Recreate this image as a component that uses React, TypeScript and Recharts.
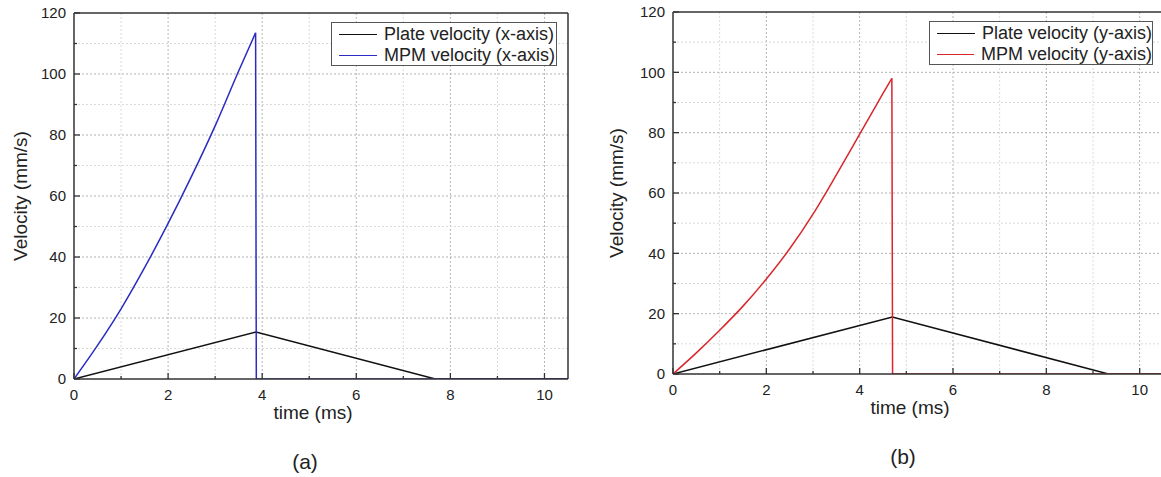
import React from "react";
import { LineChart, Line, XAxis, YAxis, ReferenceLine } from "recharts";

// axis ticks
const timeTicks = [0, 1, 2, 3, 4, 5, 6, 7, 8, 9, 10];
const velTicks = [0, 10, 20, 30, 40, 50, 60, 70, 80, 90, 100, 110, 120];
const timeMax = 10.5;
const velMax = 120;

// panel (a): x-axis velocities
const plateXTime = [0, 3.87, 7.68, 10.5];
const plateXVel = [0, 15.4, 0, 0];
const mpmXTime = [0, 0.5, 1, 1.5, 2, 2.5, 3, 3.5, 3.86, 3.875, 10.5];
const mpmXVel = [0, 11, 23, 36.5, 51, 66.5, 83, 101, 113.5, 0, 0];

// panel (b): y-axis velocities
const plateYTime = [0, 4.7, 9.33, 10.5];
const plateYVel = [0, 18.9, 0, 0];
const mpmYTime = [0, 0.5, 1, 1.5, 2, 2.5, 3, 3.5, 4, 4.5, 4.69, 4.705, 10.5];
const mpmYVel = [0, 7, 14.5, 22.5, 31.5, 41.5, 53, 66, 79.5, 93, 98, 0, 0];

const seriesNamesX = ["Plate velocity (x-axis)", "MPM velocity (x-axis)"];
const seriesNamesY = ["Plate velocity (y-axis)", "MPM velocity (y-axis)"];

const FONT = 'Arial, "Liberation Sans", sans-serif';
const AXIS = "#333";

type Pt = { t: number; v: number };
const toPoints = (ts: number[], vs: number[]): Pt[] => ts.map((t, i) => ({ t, v: vs[i] }));

// index of the peak, where the MPM curve drops back to zero
const peakIndex = (vs: number[]) => vs.indexOf(Math.max(...vs));

function TimeTick(props: any) {
  const { x, y, payload } = props;
  const major = payload.value % 2 === 0;
  return (
    <g>
      <line x1={x} x2={x} y1={y} y2={y - (major ? 6 : 3)} stroke={AXIS} strokeWidth={1.3} />
      {major && (
        <text x={x} y={y + 16} dy="0.35em" textAnchor="middle" fontSize={15} fill="#222" fontFamily={FONT}>
          {payload.value}
        </text>
      )}
    </g>
  );
}

function VelTick(props: any) {
  const { x, y, payload } = props;
  const major = payload.value % 20 === 0;
  return (
    <g>
      <line x1={x} x2={x + (major ? 6 : 3)} y1={y} y2={y} stroke={AXIS} strokeWidth={1.3} />
      {major && (
        <text x={x - 8} y={y} dy="0.35em" textAnchor="end" fontSize={15} fill="#222" fontFamily={FONT}>
          {payload.value}
        </text>
      )}
    </g>
  );
}

interface PanelProps {
  left: number;
  width: number;
  margin: { top: number; right: number; bottom: number; left: number };
  yAxisWidth: number;
  xAxisHeight: number;
  yLabelOffset: number;
  plate: Pt[];
  mpmRise: Pt[];
  mpmDrop: Pt[];
  mpmColor: string;
  names: string[];
  legend: { left: number; top: number; width: number };
  caption: string;
  captionX: number;
  captionY: number;
}

function Panel(p: PanelProps) {
  return (
    <>
      <div style={{ position: "absolute", left: p.left, top: 0 }}>
        <LineChart width={p.width} height={477} margin={p.margin}>
          <XAxis
            dataKey="t"
            type="number"
            domain={[0, timeMax]}
            ticks={timeTicks}
            interval={0}
            allowDataOverflow
            height={p.xAxisHeight}
            tickSize={0}
            tickMargin={0}
            tickLine={false}
            axisLine={{ stroke: AXIS, strokeWidth: 1.5 }}
            tick={(tp: any) => <TimeTick {...tp} />}
            label={{
              value: "time (ms)",
              position: "insideTop",
              offset: 27,
              dx: -8,
              fontSize: 19,
              fill: "#222",
              fontFamily: FONT,
            }}
          />
          <YAxis
            type="number"
            domain={[0, velMax]}
            ticks={velTicks}
            interval={0}
            allowDataOverflow
            width={p.yAxisWidth}
            tickSize={0}
            tickMargin={0}
            tickLine={false}
            axisLine={{ stroke: AXIS, strokeWidth: 1.5 }}
            tick={(tp: any) => <VelTick {...tp} />}
            label={{
              value: "Velocity (mm/s)",
              angle: -90,
              position: "insideLeft",
              offset: p.yLabelOffset,
              fontSize: 19,
              fill: "#222",
              fontFamily: FONT,
              style: { textAnchor: "middle" },
            }}
          />
          {timeTicks
            .filter((t) => t > 0)
            .map((t) => (
              <ReferenceLine
                key={"gx" + t}
                x={t}
                stroke={t % 2 === 0 ? "#b4b4b4" : "#dadada"}
                strokeDasharray="2 2"
              />
            ))}
          {velTicks
            .filter((v) => v > 0 && v < velMax)
            .map((v) => (
              <ReferenceLine
                key={"gy" + v}
                y={v}
                stroke={v % 20 === 0 ? "#b4b4b4" : "#dadada"}
                strokeDasharray="2 2"
              />
            ))}
          <ReferenceLine y={velMax} stroke={AXIS} strokeWidth={1.5} />
          <ReferenceLine x={timeMax} stroke={AXIS} strokeWidth={1.5} />
          <Line
            data={p.plate}
            dataKey="v"
            type="linear"
            stroke="#111"
            strokeWidth={1.5}
            dot={false}
            isAnimationActive={false}
          />
          <Line
            data={p.mpmRise}
            dataKey="v"
            type="monotone"
            stroke={p.mpmColor}
            strokeWidth={1.5}
            dot={false}
            isAnimationActive={false}
          />
          <Line
            data={p.mpmDrop}
            dataKey="v"
            type="linear"
            stroke={p.mpmColor}
            strokeWidth={1.5}
            dot={false}
            isAnimationActive={false}
          />
        </LineChart>
      </div>
      <div
        style={{
          position: "absolute",
          left: p.legend.left,
          top: p.legend.top,
          width: p.legend.width,
          height: 44,
          border: "1px solid #555",
          background: "#fff",
          boxSizing: "border-box",
          fontFamily: FONT,
          fontSize: 18,
          color: "#222",
          padding: "1px 0 0 7px",
          whiteSpace: "nowrap",
        }}
      >
        {p.names.map((n, i) => (
          <div key={n} style={{ display: "flex", alignItems: "center", height: 21, lineHeight: "21px" }}>
            <span
              style={{
                display: "inline-block",
                width: 38,
                height: 0,
                borderTop: `1.5px solid ${i === 0 ? "#111" : p.mpmColor}`,
                marginRight: 7,
              }}
            />
            <span>{n}</span>
          </div>
        ))}
      </div>
      <div
        style={{
          position: "absolute",
          left: p.captionX - 30,
          top: p.captionY - 13,
          width: 60,
          textAlign: "center",
          fontFamily: FONT,
          fontSize: 21,
          lineHeight: "26px",
          color: "#222",
        }}
      >
        {p.caption}
      </div>
    </>
  );
}

export default function App() {
  const mpmX = toPoints(mpmXTime, mpmXVel);
  const mpmY = toPoints(mpmYTime, mpmYVel);
  const kx = peakIndex(mpmXVel);
  const ky = peakIndex(mpmYVel);
  return (
    <div
      style={{
        position: "absolute",
        left: 0,
        top: 0,
        width: 1161,
        height: 477,
        overflow: "hidden",
        background: "#fff",
      }}
    >
      <Panel
        left={0}
        width={580}
        margin={{ top: 13, right: 12, bottom: 0, left: 0 }}
        yAxisWidth={74}
        xAxisHeight={98}
        yLabelOffset={20}
        plate={toPoints(plateXTime, plateXVel)}
        mpmRise={mpmX.slice(0, kx + 1)}
        mpmDrop={mpmX.slice(kx)}
        mpmColor="#2b2bc4"
        names={seriesNamesX}
        legend={{ left: 331, top: 22, width: 226 }}
        caption="(a)"
        captionX={305}
        captionY={462}
      />
      <Panel
        left={580}
        width={590}
        margin={{ top: 12, right: 7, bottom: 0, left: 0 }}
        yAxisWidth={93}
        xAxisHeight={103}
        yLabelOffset={36}
        plate={toPoints(plateYTime, plateYVel)}
        mpmRise={mpmY.slice(0, ky + 1)}
        mpmDrop={mpmY.slice(ky)}
        mpmColor="#d9262b"
        names={seriesNamesY}
        legend={{ left: 929, top: 21, width: 224 }}
        caption="(b)"
        captionX={903}
        captionY={457}
      />
    </div>
  );
}
